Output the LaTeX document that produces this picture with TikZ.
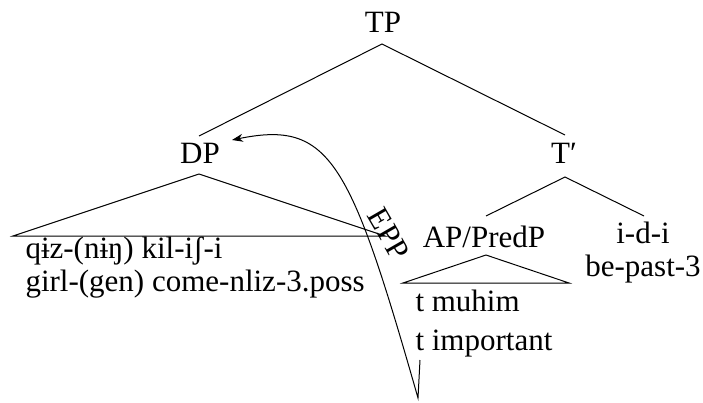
\documentclass[tikz,border=0pt]{standalone}
\usepackage{fontspec}
\setmainfont{Liberation Serif}
\usetikzlibrary{arrows.meta}

\begin{document}
\begin{tikzpicture} [x=1pt,y=-1pt,line width=1pt,>={Stealth[length=11pt,width=8pt]},
  lbl/.style={font=\fontsize{31}{33}\selectfont,inner sep=0pt}]
\useasboundingbox (0,0) rectangle (703,402);
\node[lbl] (tp) at (383,22) {TP};
\node[lbl] (dp) at (200,153) {DP};
\node[lbl] (tbar) at (564,153) {T′};
\node[lbl] (ap) at (484,237) {AP/PredP};
\node[lbl,align=center] (idi) at (643,253) {i-d-i\\be-past-3};
\node[lbl,align=left,anchor=west] (subj) at (25,268) {qɨz-(nɨŋ) kil-iʃ-i\\girl-(gen) come-nliz-3.poss};
\node[lbl,align=left,anchor=west] (pred) at (415,324) {t muhim\\[6pt]t important};
% branches
\coordinate (tpb) at (382,44);
\coordinate (dpt) at (199,136);
\coordinate (tbt) at (565,135);
\coordinate (tbb) at (565,177);
\draw (dpt) -- (tpb) -- (tbt);
\draw (486,216) coordinate (apt) -- (tbb) -- (644,216) coordinate (idit);
% triangles
\draw (199,174) coordinate (dpb) -- (13,236) -- (385,236) -- (dpb);
\draw (486,255) coordinate (apb) -- (403,283) -- (569,283) -- (apb);
% movement
\coordinate (tr) at (420,360);
\draw[->] (tr) -- (418,398) .. controls (350,160) and (330,120) .. (232,140);
\node[lbl,rotate=-60] (epp) at (389,234) {EPP};
\end{tikzpicture}
\end{document}
